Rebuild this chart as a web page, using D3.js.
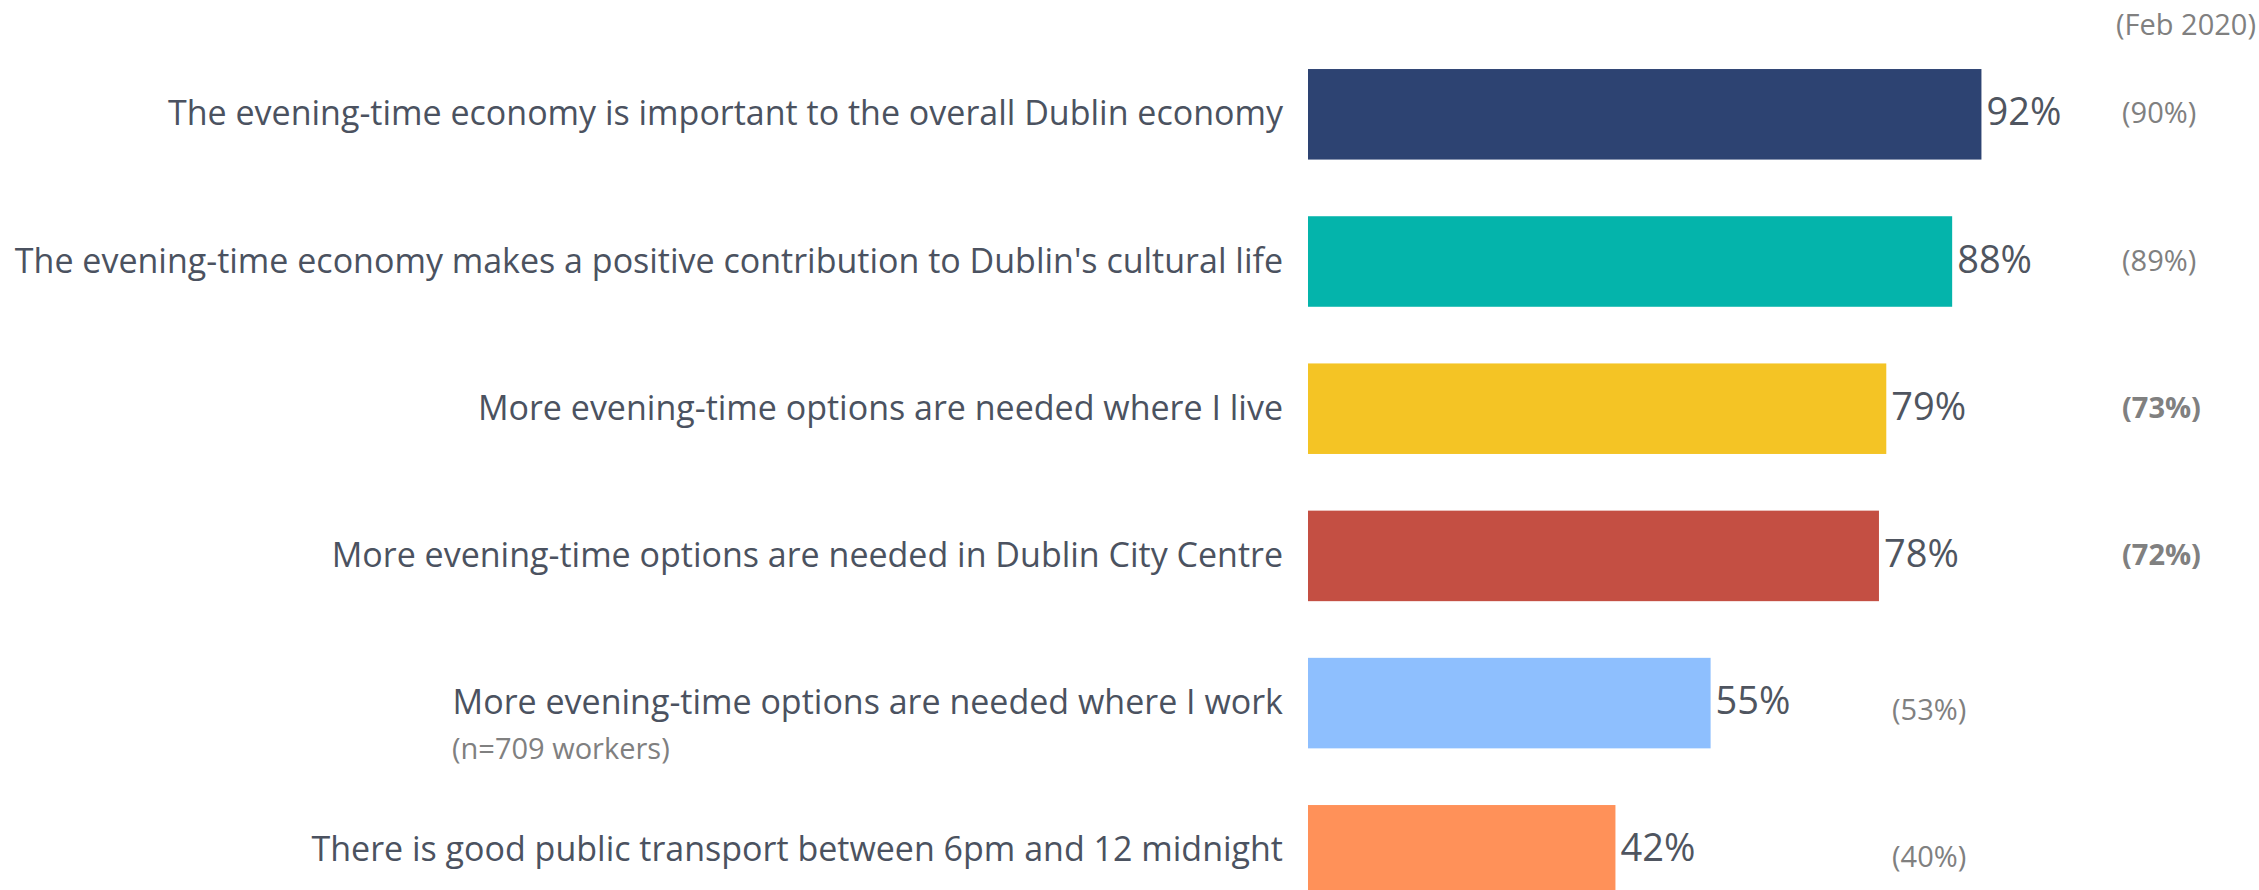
<!DOCTYPE html>
<html>
<head>
<meta charset="utf-8">
<script src="https://cdn.jsdelivr.net/npm/d3@7"></script>
<style>
  html, body { margin: 0; padding: 0; background: #fff; }
  svg { display: block; font-family: "Open Sans", sans-serif; }
</style>
</head>
<body>
<svg id="chart"></svg>
<script>
var categories = [
  "The evening-time economy is important to the overall Dublin economy",
  "The evening-time economy makes a positive contribution to Dublin's cultural life",
  "More evening-time options are needed where I live",
  "More evening-time options are needed in Dublin City Centre",
  "More evening-time options are needed where I work",
  "There is good public transport between 6pm and 12 midnight"
];
var values = [92, 88, 79, 78, 55, 42];
var febValues = [90, 89, 73, 72, 53, 40];
var febBold = [false, false, true, true, false, false];
var colors = ["#2d4372", "#04b4ab", "#f4c425", "#c44f43", "#8ebffe", "#ff9159"];
var febHeader = "(Feb 2020)";
var workersNote = "(n=709 workers)";

var width = 2259, height = 890;

var svg = d3.select("#chart")
  .attr("width", width)
  .attr("height", height);

var x = d3.scaleLinear()
  .domain([0, 100])
  .range([1308, 2040]);

var y = d3.scaleBand()
  .domain(categories)
  .range([40.7, 923.9])
  .paddingInner(0.385)
  .paddingOuter(0.1925);

var rows = categories.map(function (c, i) {
  return { cat: c, value: values[i], feb: febValues[i], bold: febBold[i], color: colors[i], i: i };
});

// bars
svg.append("g")
  .selectAll("rect")
  .data(rows)
  .join("rect")
  .attr("x", x(0))
  .attr("y", d => y(d.cat))
  .attr("width", d => x(d.value) - x(0))
  .attr("height", y.bandwidth())
  .attr("fill", d => d.color);

// category labels
svg.append("g")
  .selectAll("text")
  .data(rows)
  .join("text")
  .attr("x", x(0) - 25)
  .attr("y", d => y(d.cat) + y.bandwidth() / 2 + 11)
  .attr("text-anchor", "end")
  .attr("font-size", 34)
  .attr("fill", "#4b5260")
  .text(d => d.cat);

// value labels
svg.append("g")
  .selectAll("text")
  .data(rows)
  .join("text")
  .attr("x", d => x(d.value) + 5)
  .attr("y", d => y(d.cat) + y.bandwidth() / 2 + 11)
  .attr("font-size", 38)
  .attr("fill", "#4f5560")
  .text(d => d.value + "%");

// Feb 2020 comparison values
svg.append("g")
  .selectAll("text")
  .data(rows)
  .join("text")
  .attr("x", d => d.i < 4 ? 2122 : 1892)
  .attr("y", d => y(d.cat) + y.bandwidth() / 2 + (d.i < 4 ? 9 : 17))
  .attr("font-size", 29)
  .attr("font-weight", d => d.bold ? "bold" : "normal")
  .attr("fill", "#808080")
  .text(d => "(" + d.feb + "%)");

svg.append("text")
  .attr("x", 2256)
  .attr("y", 35)
  .attr("text-anchor", "end")
  .attr("font-size", 29)
  .attr("fill", "#808080")
  .text(febHeader);

svg.append("text")
  .attr("x", 452)
  .attr("y", y(categories[4]) + y.bandwidth() / 2 + 56)
  .attr("font-size", 29)
  .attr("fill", "#808080")
  .text(workersNote);
</script>
</body>
</html>
